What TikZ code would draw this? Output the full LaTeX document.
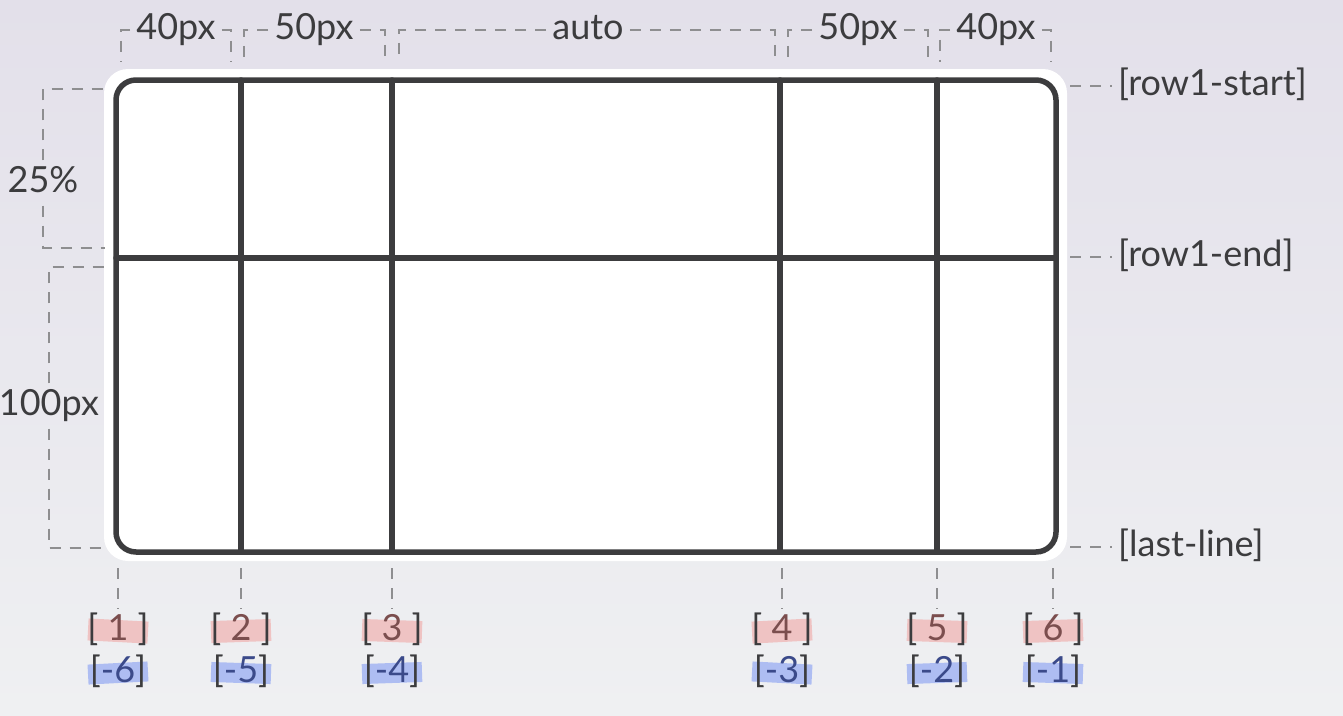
\documentclass[tikz,border=0pt]{standalone}
\usepackage{fontspec}
\setmainfont{Lato}
\usepackage{tikz}
\usetikzlibrary{positioning}
\definecolor{inkgray}{HTML}{3C3C3E}
\definecolor{dimgray}{HTML}{8E8E90}
\definecolor{bgtop}{HTML}{E3E0EA}
\definecolor{bgbottom}{HTML}{EFF0F2}
\definecolor{markpink}{HTML}{EFC3C3}
\definecolor{markblue}{HTML}{AEBDF2}
\definecolor{inkred}{HTML}{7B4E4E}
\definecolor{inkblue}{HTML}{3B4A8A}
\tikzset{grid line/.style = {%
  draw = inkgray,
  line width = 5.5pt,
  line cap = round
 },
 dim line/.style = {
  draw = dimgray,
  line width = 1.8pt,
  dash pattern = on 11pt off 9pt
 },
 dim text/.style = {
  text = inkgray,
  font = \fontsize{36}{42}\selectfont,
  text height = 26pt,
  text depth = 7pt,
  inner sep = 6pt
 },
 pos mark/.style = {
  fill = markpink,
  minimum width = 60pt,
  minimum height = 22pt,
  inner sep = 0pt
 },
 neg mark/.style = {
  pos mark,
  fill = markblue,
  minimum height = 20pt
 }
}

\begin{document}
\begin{tikzpicture}[x=1pt,y=-1pt]
      \useasboundingbox (0,0) rectangle (1343,715);
      \shade[top color=bgtop,bottom color=bgbottom] (0,0) rectangle (1343,715);
      \fill[white,rounded corners=24pt] (104,69) rectangle (1067,561);

      % the grid
      \draw[grid line,rounded corners=20pt] (116,80) rectangle (1056,552);
      \draw[grid line] (116,258) -- (1056,258);
      \foreach \x in {241,392,780,937}
        \draw[grid line] (\x,80) -- (\x,552);

      % column sizes
      \foreach \l/\r/\c/\t [count=\i] in {121/231/176/40px, 244/385/314/50px,
          399/775/588/auto, 788/928/858/50px, 940/1051/996/40px} {
        \coordinate (cl\i) at (\l,62);
        \coordinate (cr\i) at (\r,62);
        \node[dim text] (c\i) at (\c,30) {\t};
        \draw[dim line] (c\i.west) -| (cl\i);
        \draw[dim line] (c\i.east) -| (cr\i);
      }

      % row sizes
      \coordinate (a1) at (105,89);
      \coordinate (a2) at (105,248);
      \coordinate (b1) at (105,267);
      \coordinate (b2) at (105,548);
      \node[dim text] (r1) at (43,183) {25\%};
      \node[dim text] (r2) at (49,406) {100px};
      \draw[dim line] (r1.north) |- (a1);
      \draw[dim line] (r1.south) |- (a2);
      \draw[dim line] (r2.north) |- (b1);
      \draw[dim line] (r2.south) |- (b2);

      % row line names
      \foreach \y/\t [count=\i] in {86/{[row1-start]}, 257/{[row1-end]}, 547/{[last-line]}} {
        \coordinate (s\i) at (1070,\y);
        \node[dim text,anchor=west] (n\i) at (1112,\y) {\t};
        \draw[dim line] (s\i) -- (n\i.west);
      }

      % column line numbers
      \foreach \x/\p/\n/\a [count=\i] in {118/1/-6/-3, 241/2/-5/2, 392/3/-4/-2,
          782/4/-3/3, 937/5/-2/-2, 1053/6/-1/2} {
        \coordinate (t\i) at (\x,568);
        \node[pos mark,rotate=\a] (h\i) at (\x,631) {};
        \node[neg mark,rotate=-\a] (k\i) at (\x,673) {};
        \node[dim text] (p\i) at (h\i) {[ {\color{inkred}\p} ]};
        \node[dim text] (m\i) at (k\i) {[{\color{inkblue}\n}]};
        \draw[dim line] (t\i) -- (p\i.north);
      }
\end{tikzpicture}
\end{document}
